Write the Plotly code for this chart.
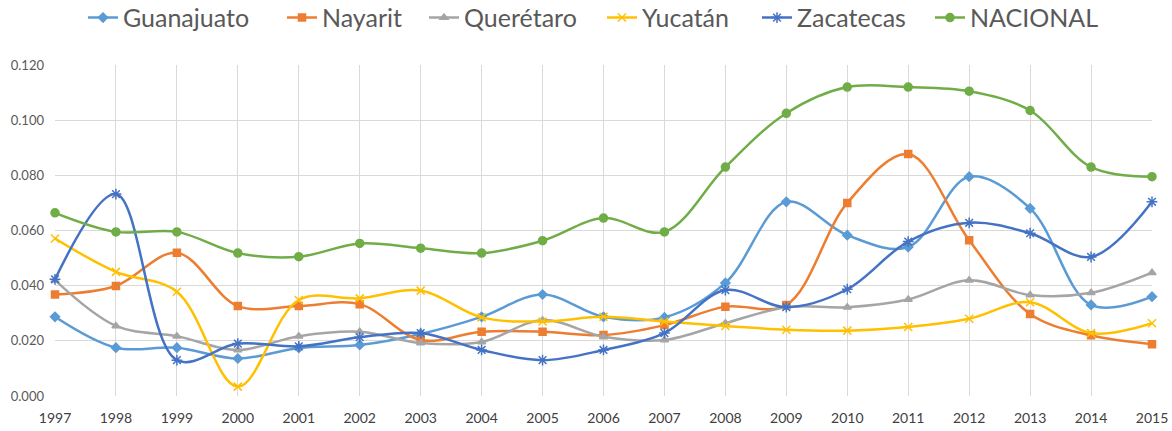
import plotly.graph_objects as go

years = list(range(1997, 2016))

guanajuato = [0.0287, 0.0175, 0.0175, 0.0136, 0.0174, 0.0185, 0.0225, 0.0287, 0.0368, 0.0287,
              0.0285, 0.0410, 0.0704, 0.0583, 0.0540, 0.0795, 0.0680, 0.0330, 0.0360]
nayarit = [0.0368, 0.0399, 0.0519, 0.0326, 0.0326, 0.0333, 0.0203, 0.0233, 0.0233, 0.0221,
           0.0257, 0.0324, 0.0330, 0.0700, 0.0877, 0.0565, 0.0297, 0.0220, 0.0188]
queretaro = [0.0420, 0.0254, 0.0217, 0.0167, 0.0217, 0.0233, 0.0192, 0.0196, 0.0275, 0.0215,
             0.0203, 0.0264, 0.0322, 0.0322, 0.0350, 0.0420, 0.0366, 0.0374, 0.0447]
yucatan = [0.0571, 0.0450, 0.0378, 0.0034, 0.0348, 0.0354, 0.0382, 0.0285, 0.0270, 0.0287,
           0.0270, 0.0254, 0.0240, 0.0237, 0.0250, 0.0280, 0.0340, 0.0228, 0.0264]
zacatecas = [0.0423, 0.0732, 0.0130, 0.0190, 0.0180, 0.0213, 0.0228, 0.0167, 0.0130, 0.0167,
             0.0228, 0.0384, 0.0322, 0.0387, 0.0560, 0.0628, 0.0590, 0.0504, 0.0704]
nacional = [0.0664, 0.0595, 0.0595, 0.0518, 0.0505, 0.0553, 0.0536, 0.0518, 0.0563, 0.0645,
            0.0595, 0.0830, 0.1025, 0.1120, 0.1120, 0.1105, 0.1035, 0.0830, 0.0795]

series = [
    ("Guanajuato", guanajuato, "#5B9BD5", "diamond", 7),
    ("Nayarit", nayarit, "#ED7D31", "square", 7),
    ("Querétaro", queretaro, "#A5A5A5", "triangle-up", 7),
    ("Yucatán", yucatan, "#FFC000", "x-thin-open", 8),
    ("Zacatecas", zacatecas, "#4472C4", "asterisk-open", 9),
    ("NACIONAL", nacional, "#70AD47", "circle", 8),
]

# legend entry start positions (pixels from left of the page)
legend_px = [83, 282, 424, 602, 757, 930]
L, R = 55, 20
W = 1172
plot_w = W - L - R

fig = go.Figure()
layout_legends = {}
for i, (name, vals, color, sym, sz) in enumerate(series):
    lg = "legend" if i == 0 else f"legend{i+1}"
    fig.add_trace(go.Scatter(
        x=years, y=vals, name=name, mode="lines+markers",
        line=dict(color=color, width=2.5, shape="spline", smoothing=1.0),
        marker=dict(symbol=sym, size=sz, color=color,
                    line=dict(color=color, width=1.5)),
        cliponaxis=False, legend=lg, showlegend=True,
    ))
    layout_legends[lg] = dict(
        orientation="h", x=(legend_px[i] - L) / plot_w, xanchor="left",
        y=1.212, yanchor="top", font=dict(size=25, color="#595959"),
        itemwidth=30, bgcolor="rgba(0,0,0,0)", visible=True,
    )

fig.update_layout(
    width=W, height=431,
    showlegend=True,
    margin=dict(l=L, r=R, t=65, b=35, autoexpand=False),
    paper_bgcolor="white", plot_bgcolor="white",
    font=dict(family="Lato", color="#595959"),
    xaxis=dict(range=[1997, 2015], tickvals=years, ticktext=[str(y) for y in years],
               showgrid=True, gridcolor="#D9D9D9", gridwidth=1, zeroline=False,
               showline=False, tickfont=dict(size=14, color="#404040"),
               ticklabelstandoff=12),
    yaxis=dict(range=[0, 0.12], dtick=0.02, tickformat=".3f",
               showgrid=True, gridcolor="#D9D9D9", gridwidth=1, zeroline=False,
               showline=False, tickfont=dict(size=13, color="#595959"),
               ticklabelstandoff=10),
    **layout_legends,
)

fig.write_html("out.html", config={"displayModeBar": False},
               post_script="document.body.style.margin='0';document.body.style.overflow='hidden';")
